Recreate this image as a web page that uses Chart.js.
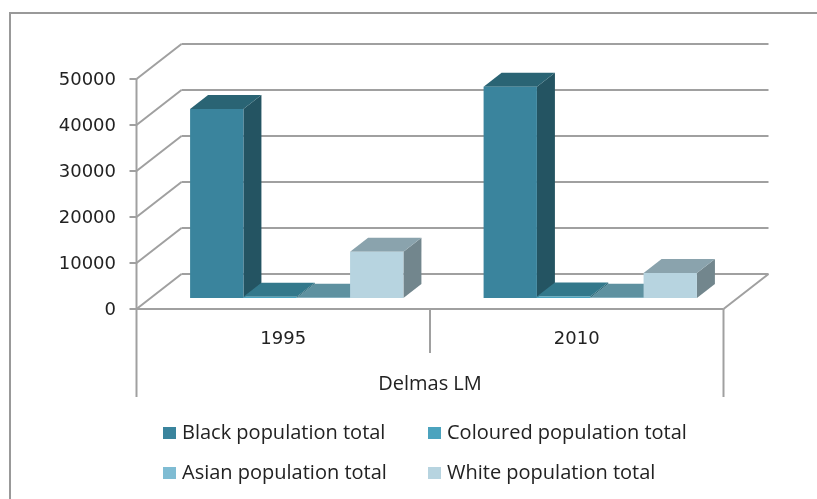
<!DOCTYPE html>
<html>
<head>
<meta charset="utf-8">
<style>
  html, body { margin: 0; padding: 0; background: #fff; overflow: hidden; }
  canvas { display: block; }
</style>
<script src="https://cdn.jsdelivr.net/npm/chart.js@4"></script>
</head>
<body>
<canvas id="populationChart" width="817" height="499"></canvas>
<script>
// Population totals for Delmas LM
const years = ['1995', '2010'];
const groupLabel = 'Delmas LM';
const seriesNames = ['Black population total', 'Coloured population total', 'Asian population total', 'White population total'];
const blackTotals = [41100, 45900];
const colouredTotals = [250, 300];
const asianTotals = [60, 60];
const whiteTotals = [10050, 5450];
const yTicks = [0, 10000, 20000, 30000, 40000, 50000];

const faceColours = ['#3A849D', '#4BA3BE', '#7FBCD3', '#B7D4E0'];
const topColours = ['#2A6474', '#33788B', '#5E91A0', '#8AA3AD'];
const sideColours = ['#245462', '#2B6676', '#4F7C89', '#72868D'];

const GRID_COLOUR = '#A0A0A0';
const TEXT_COLOUR = '#222';
const FONT_TEXT = '20px "Open Sans"';

// Offsets of the floor's front edge and back wall relative to the plane the bars stand on
const FRONT = { dx: -13.5, dy: 11 };
const BACK = { dx: 31.5, dy: -24 };
// Bar depth
const DEPTH = { dx: 18, dy: -14 };

function strokeLine(ctx, x1, y1, x2, y2) {
    ctx.beginPath();
    ctx.moveTo(x1, y1);
    ctx.lineTo(x2, y2);
    ctx.stroke();
}

function fillPoly(ctx, pts, colour) {
    ctx.fillStyle = colour;
    ctx.beginPath();
    pts.forEach((p, i) => i ? ctx.lineTo(p[0], p[1]) : ctx.moveTo(p[0], p[1]));
    ctx.closePath();
    ctx.fill();
}

// Walls, floor, axis lines and the outer frame
const wallsPlugin = {
    id: 'walls',
    beforeDatasetsDraw(chart) {
        const { ctx, chartArea, scales } = chart;
        const left = chartArea.left, right = chartArea.right;
        ctx.save();
        ctx.strokeStyle = '#999';
        ctx.lineWidth = 2;
        ctx.beginPath();
        ctx.moveTo(10, 499);
        ctx.lineTo(10, 13);
        ctx.lineTo(817, 13);
        ctx.stroke();

        ctx.strokeStyle = GRID_COLOUR;
        ctx.lineWidth = 2;
        yTicks.forEach(v => {
            const y = scales.y.getPixelForValue(v);
            strokeLine(ctx, left + FRONT.dx, y + FRONT.dy, left + BACK.dx, y + BACK.dy);
            strokeLine(ctx, left + BACK.dx, y + BACK.dy, right + BACK.dx, y + BACK.dy);
            // tick mark on the value axis
            strokeLine(ctx, left + FRONT.dx - 7, y + FRONT.dy, left + FRONT.dx, y + FRONT.dy);
        });

        const y0 = scales.y.getPixelForValue(0) + FRONT.dy;
        const y50 = scales.y.getPixelForValue(50000) + FRONT.dy;
        const frontLeft = left + FRONT.dx, frontRight = right + FRONT.dx;
        const frontMid = (frontLeft + frontRight) / 2;
        strokeLine(ctx, frontLeft, y50, frontLeft, y0);
        strokeLine(ctx, frontLeft, y0, frontRight, y0);
        strokeLine(ctx, frontRight, y0, right + BACK.dx, scales.y.getPixelForValue(0) + BACK.dy);

        // category dividers below the floor
        strokeLine(ctx, frontLeft, y0, frontLeft, 397);
        strokeLine(ctx, frontRight, y0, frontRight, 397);
        strokeLine(ctx, frontMid, y0, frontMid, 353);

        // 3D sides and tops, left to right; the front faces are the library's bars
        chart.data.datasets.forEach((ds, i) => {
            chart.getDatasetMeta(i).data.forEach(bar => {
                const p = bar.getProps(['x', 'y', 'base', 'width']);
                const x1 = p.x - p.width / 2, x2 = p.x + p.width / 2;
                fillPoly(ctx, [[x2, p.y], [x2 + DEPTH.dx, p.y + DEPTH.dy], [x2 + DEPTH.dx, p.base + DEPTH.dy], [x2, p.base]], sideColours[i]);
                fillPoly(ctx, [[x1, p.y], [x1 + DEPTH.dx, p.y + DEPTH.dy], [x2 + DEPTH.dx, p.y + DEPTH.dy], [x2, p.y]], topColours[i]);
            });
        });
        ctx.restore();
    },
    afterDraw(chart) {
        const { ctx, chartArea } = chart;
        ctx.save();
        ctx.fillStyle = TEXT_COLOUR;
        ctx.textBaseline = 'middle';
        ctx.textAlign = 'center';
        ctx.font = FONT_TEXT;
        ctx.fillText(groupLabel, (chartArea.left + chartArea.right) / 2 + FRONT.dx, 384);

        // Two-column legend
        ctx.textAlign = 'left';
        const columns = [163, 428];
        const rows = [433, 473];
        seriesNames.forEach((name, i) => {
            const x = columns[i % 2], y = rows[Math.floor(i / 2)];
            ctx.fillStyle = faceColours[i];
            ctx.fillRect(x, y - 6, 13, 12);
            ctx.fillStyle = TEXT_COLOUR;
            ctx.fillText(name, x + 19, y);
        });
        ctx.restore();
    }
};

const config = {
    type: 'bar',
    data: {
        labels: years,
        datasets: [blackTotals, colouredTotals, asianTotals, whiteTotals].map((values, i) => ({
            label: seriesNames[i],
            data: values,
            backgroundColor: faceColours[i],
            borderWidth: 0,
            categoryPercentage: 0.7268,
            barPercentage: 1
        }))
    },
    options: {
        responsive: false,
        animation: false,
        layout: { padding: { left: 0, right: 80, top: 68, bottom: 0 } },
        plugins: { legend: { display: false }, tooltip: { enabled: false } },
        scales: {
            x: {
                grid: { display: false, drawTicks: false },
                border: { display: false },
                ticks: { color: TEXT_COLOUR, font: { family: 'DejaVu Sans', size: 18 }, padding: 31, labelOffset: FRONT.dx, maxRotation: 0 },
                afterFit(scale) { scale.height = 201; }
            },
            y: {
                min: 0,
                max: 50000,
                grid: { display: false, drawTicks: false },
                border: { display: false },
                ticks: {
                    stepSize: 10000,
                    color: TEXT_COLOUR,
                    font: { family: 'DejaVu Sans', size: 18 },
                    padding: 34,
                    labelOffset: FRONT.dy + 1,
                    callback: value => String(value)
                },
                afterFit(scale) { scale.width = 150; }
            }
        }
    },
    plugins: [wallsPlugin]
};

new Chart(document.getElementById('populationChart').getContext('2d'), config);
</script>
</body>
</html>
